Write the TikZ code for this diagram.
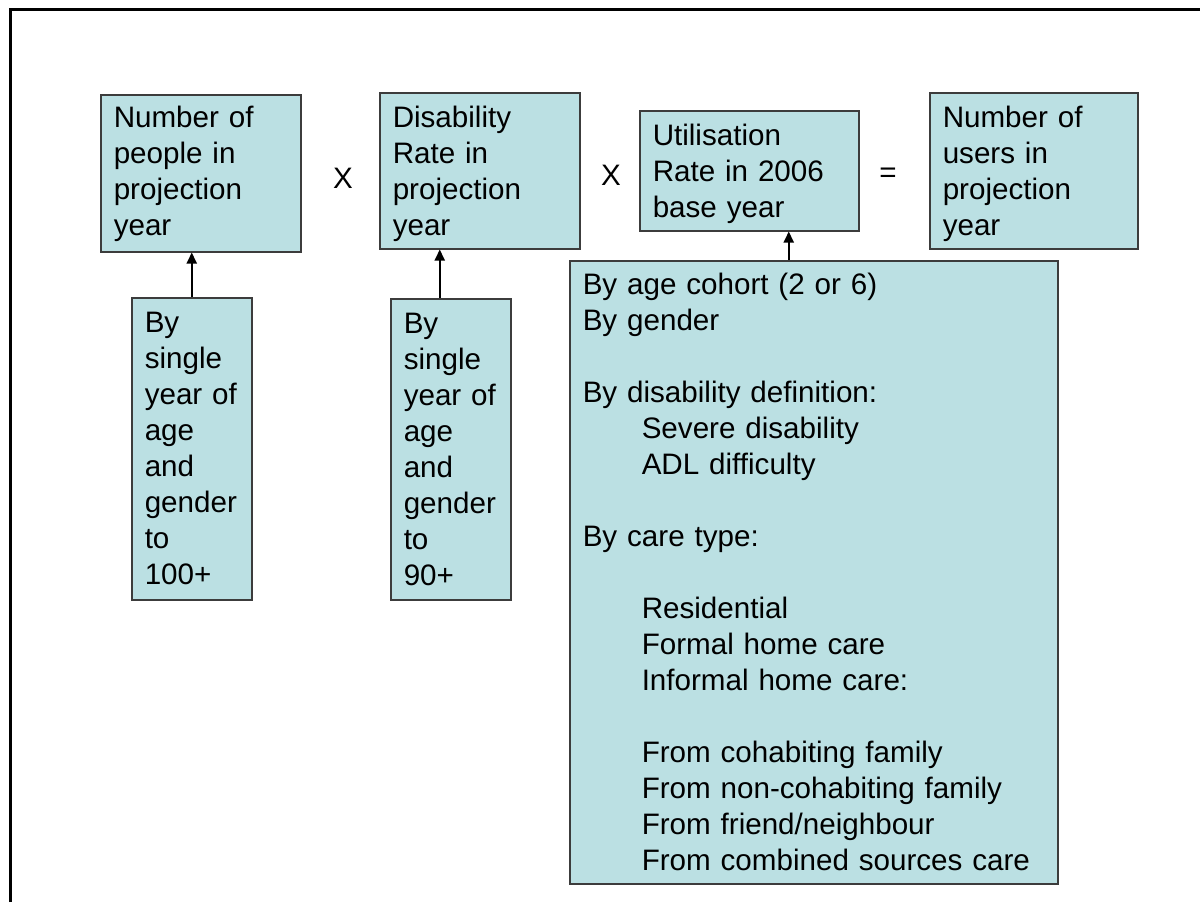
\documentclass[tikz,border=0pt]{standalone}
\usepackage{fontspec}
\setmainfont{Liberation Sans}
\usepackage{tikz}
\usetikzlibrary{positioning, arrows.meta}
\definecolor{boxfill}{RGB}{187,224,227}
\definecolor{boxframe}{RGB}{60,60,60}

\begin{document}
\begin{tikzpicture}[
        x=0.5pt, y=-0.5pt,
        txt/.style={font=\fontsize{14.8}{18}\selectfont},
        box/.style={draw=boxframe, fill=boxfill, line width=0.75pt, rectangle, anchor=north west, align=left, inner xsep=6.5pt, inner ysep=0pt, txt},
        op/.style={txt, inner sep=0pt},
        arr/.style={-{Triangle[width=5pt, length=5.5pt]}, line width=1pt}
    ]
    \useasboundingbox (0,0) rectangle (1200,902);
    \draw[line width=1.5pt] (10.5,902) -- (10.5,9.5) -- (1200,9.5);

    % top row of the formula
    \node[box, text width=87pt, text height=16.5pt, text depth=62pt] (people) at (100,94) {Number of\\people in\\projection\\year};
    \node[box, text width=87pt, text height=17.5pt, text depth=60.5pt] (disab) at (379,92) {Disability\\Rate in\\projection\\year};
    \node[box, text width=96.5pt, text height=17.5pt, text depth=42.5pt] (util) at (639,110) {Utilisation\\Rate in 2006\\base year};
    \node[box, text width=91pt, text height=17.5pt, text depth=60.5pt] (users) at (929,92) {Number of\\users in\\projection\\year};

    \node[op] (times1) at (343,178) {X};
    \node[op] (times2) at (611,175) {X};
    \node[op] (equals) at (888,175) {=};

    % breakdowns
    \node[box, text width=47pt, text height=17.5pt, text depth=133.5pt] (bypeople) at (131,297) {By\\single\\year of\\age\\and\\gender\\to\\100+};
    \node[box, text width=47pt, text height=17.5pt, text depth=133pt] (bydisab) at (390,298) {By\\single\\year of\\age\\and\\gender\\to\\90+};
    \node[box, text width=231pt, text height=17pt, text depth=294.5pt] (byutil) at (569,260) {By age cohort (2 or 6)\\
        By gender\\[18pt]
        By disability definition:\\
        \hspace*{29.5pt}Severe disability\\
        \hspace*{29.5pt}ADL difficulty\\[18pt]
        By care type:\\[18pt]
        \hspace*{29.5pt}Residential\\
        \hspace*{29.5pt}Formal home care\\
        \hspace*{29.5pt}Informal home care:\\[18pt]
        \hspace*{29.5pt}From cohabiting family\\
        \hspace*{29.5pt}From non-cohabiting family\\
        \hspace*{29.5pt}From friend/neighbour\\
        \hspace*{29.5pt}From combined sources care};

    \coordinate (foot2) at ([xshift=-5.5pt]bydisab.north);
    \coordinate (foot3) at ([xshift=-12.5pt]byutil.north);

    \draw[arr] (bypeople.north) -- (bypeople.north |- people.south);
    \draw[arr] (foot2) -- (foot2 |- disab.south);
    \draw[arr] (foot3) -- (foot3 |- util.south);

\end{tikzpicture}
\end{document}
